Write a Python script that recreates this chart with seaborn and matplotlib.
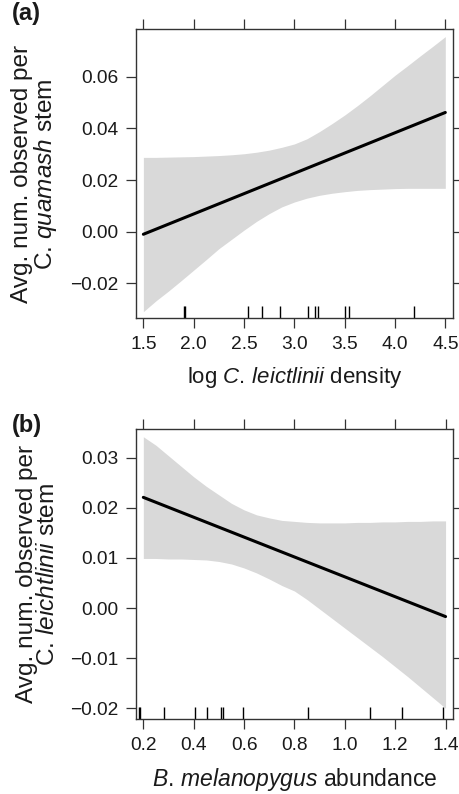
#!/usr/bin/env python3
"""Effect plots: (a) C. quamash visits vs log C. leictlinii density,
(b) C. leichtlinii visits vs B. melanopygus abundance."""
import matplotlib
matplotlib.use("Agg")
import matplotlib.pyplot as plt
from matplotlib.ticker import FuncFormatter
import seaborn as sns

# ---- panel (a) values ----
a_fit_x = [1.5, 4.5]
a_fit_y = [-0.0010, 0.0462]
a_band_x = [1.5, 1.625, 1.75, 1.875, 2.0, 2.125, 2.25, 2.375, 2.5, 2.625,
            2.75, 2.875, 3.0, 3.125, 3.25, 3.375, 3.5, 3.625, 3.75, 3.875,
            4.0, 4.125, 4.25, 4.375, 4.5]
a_band_lo = [-0.0310, -0.0268, -0.0230, -0.0190, -0.0149, -0.0108, -0.0066,
             -0.0030, 0.0006, 0.0040, 0.0070, 0.0096, 0.0115, 0.0130, 0.0141,
             0.0149, 0.0155, 0.0160, 0.0163, 0.0165, 0.0167, 0.0168, 0.0168,
             0.0168, 0.0168]
a_band_hi = [0.0288, 0.0288, 0.0289, 0.0290, 0.0291, 0.0293, 0.0295, 0.0298,
             0.0302, 0.0308, 0.0316, 0.0327, 0.0340, 0.0360, 0.0388, 0.0419,
             0.0452, 0.0488, 0.0526, 0.0566, 0.0606, 0.0643, 0.0681, 0.0718,
             0.0756]
a_rug = [1.90, 1.91, 2.54, 2.68, 2.86, 3.14, 3.21, 3.24, 3.50, 3.54, 4.19]

# ---- panel (b) values ----
b_fit_x = [0.2, 1.4]
b_fit_y = [0.0221, -0.0017]
b_band_x = [0.20, 0.25, 0.30, 0.35, 0.40, 0.45, 0.50, 0.55, 0.60, 0.65,
            0.70, 0.75, 0.80, 0.85, 0.90, 0.95, 1.00, 1.05, 1.10, 1.15,
            1.20, 1.25, 1.30, 1.35, 1.40]
b_band_lo = [0.0099, 0.0099, 0.0098, 0.0098, 0.0097, 0.0096, 0.0093, 0.0088,
             0.0080, 0.0070, 0.0058, 0.0045, 0.0034, 0.0017, -0.0002, -0.0021,
             -0.0040, -0.0059, -0.0078, -0.0097, -0.0117, -0.0137, -0.0158,
             -0.0179, -0.0200]
b_band_hi = [0.0342, 0.0325, 0.0304, 0.0283, 0.0262, 0.0243, 0.0226, 0.0209,
             0.0196, 0.0186, 0.0180, 0.0175, 0.0173, 0.0171, 0.0170, 0.0170,
             0.0170, 0.0171, 0.0171, 0.0172, 0.0172, 0.0173, 0.0173, 0.0174,
             0.0174]
b_rug = [0.182, 0.187, 0.283, 0.407, 0.452, 0.510, 0.515, 0.595,
         0.852, 1.100, 1.229, 1.390]

sns.set_style("ticks")
plt.rcParams["font.family"] = ["Liberation Sans", "DejaVu Sans"]
plt.rcParams["mathtext.fontset"] = "custom"
plt.rcParams["mathtext.rm"] = "Liberation Sans"
plt.rcParams["mathtext.it"] = "Liberation Sans:italic"

band_col = "#d9d9d9"
frame_col = "#333333"
text_col = "#1a1a1a"

fig = plt.figure(figsize=(4.6, 7.94), dpi=100)
ax_a = fig.add_axes([0.2957, 0.599, 0.689, 0.364])
ax_b = fig.add_axes([0.2957, 0.0941, 0.689, 0.365])


def fmt(decimals):
    return FuncFormatter(lambda v, pos: f"{v:.{decimals}f}".replace("-", "\u2212"))


def draw(ax, bx, lo, hi, fx, fy, rug, xlim, ylim, xticks, yticks):
    ax.fill_between(bx, lo, hi, color=band_col, lw=0, zorder=1)
    sns.lineplot(x=fx, y=fy, ax=ax, color="black", lw=2.2, zorder=3)
    sns.rugplot(x=rug, ax=ax, height=0.042, color="black", lw=1.0,
                expand_margins=False, zorder=2)
    ax.set_xlim(*xlim)
    ax.set_ylim(*ylim)
    ax.set_xticks(xticks)
    ax.set_yticks(yticks)
    ax.xaxis.set_major_formatter(fmt(1))
    ax.yaxis.set_major_formatter(fmt(2))
    ax.tick_params(top=True, right=True, labeltop=False, labelright=False,
                   direction="out", length=7.5, width=0.9, color=frame_col,
                   labelsize=13.8, pad=5, labelcolor=text_col)
    for s in ax.spines.values():
        s.set_color(frame_col)
        s.set_linewidth(1.0)


draw(ax_a, a_band_x, a_band_lo, a_band_hi, a_fit_x, a_fit_y, a_rug,
     (1.427, 4.576), (-0.0336, 0.0784),
     [1.5, 2.0, 2.5, 3.0, 3.5, 4.0, 4.5], [-0.02, 0.0, 0.02, 0.04, 0.06])
draw(ax_b, b_band_x, b_band_lo, b_band_hi, b_fit_x, b_fit_y, b_rug,
     (0.171, 1.4294), (-0.0222, 0.03565),
     [0.2, 0.4, 0.6, 0.8, 1.0, 1.2, 1.4],
     [-0.02, -0.01, 0.0, 0.01, 0.02, 0.03])

ax_a.set_xlabel(r"log $\it{C.\,leictlinii}$ density", fontsize=16,
                labelpad=9, color=text_col)
ax_a.set_ylabel("Avg. num. observed per\n" + r"C. $\it{quamash}$ stem",
                fontsize=17.6, labelpad=8, color=text_col, linespacing=0.95)
ax_b.set_xlabel(r"$\it{B.\,melanopygus}$ abundance", fontsize=16.5,
                labelpad=9, color=text_col)
ax_b.set_ylabel("Avg. num. observed per\n" + r"C. $\it{leichtlinii}$ stem",
                fontsize=17.6, labelpad=8, color=text_col, linespacing=0.95)

fig.text(0.026, 0.998, "(a)", fontsize=17, fontweight="bold", va="top",
         ha="left", color=text_col)
fig.text(0.026, 0.478, "(b)", fontsize=17, fontweight="bold", va="top",
         ha="left", color=text_col)

fig.savefig("out.png", dpi=100)
